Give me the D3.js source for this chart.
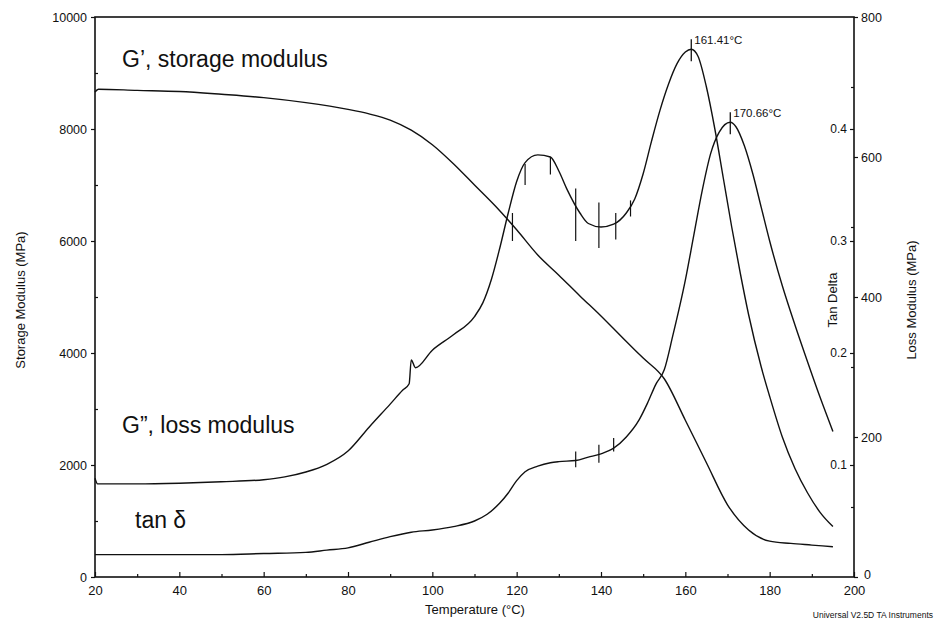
<!DOCTYPE html>
<html>
<head>
<meta charset="utf-8">
<script src="https://cdn.jsdelivr.net/npm/d3@7"></script>
<style>
  body { margin: 0; background: #fff; }
  svg { display: block; }
  text { font-family: "Liberation Sans", Arial, sans-serif; fill: #111; }
</style>
</head>
<body>
<div id="chart"></div>
<script>
// temperature (°C) and values
var storageT   = [20, 20.8, 30, 40, 50, 60, 70, 80, 85, 90, 95, 100, 105, 110, 115, 120, 125, 130, 135, 140, 145, 150, 155, 160, 165, 170, 175, 180, 185, 190, 195];
var storageVal = [8660, 8710, 8690, 8670, 8620, 8560, 8470, 8350, 8270, 8160, 7980, 7720, 7380, 7000, 6620, 6200, 5750, 5390, 5020, 4660, 4280, 3910, 3540, 2800, 2040, 1290, 840, 640, 600, 570, 540];

var lossT   = [20, 20.6, 25, 30, 40, 50, 60, 65, 70, 75, 80, 85, 90, 93, 94.5, 95, 96, 100, 105, 110, 112, 114, 116, 118, 120, 122, 125, 128, 130, 132, 135, 137, 140, 143, 146, 148, 150, 152, 154, 156, 158, 160, 161.41, 163, 165, 167, 169, 171, 173, 175, 178, 180, 183, 186, 189, 192, 195];
var lossVal = [141, 133, 133, 133, 134, 136, 139, 143, 150, 161, 180, 214, 247, 267, 276, 310, 299, 324, 346, 372, 392, 425, 470, 520, 565, 592, 603, 600, 580, 553, 520, 505, 500, 504, 520, 540, 576, 623, 667, 704, 733, 750, 754, 744, 700, 640, 570, 500, 435, 375, 300, 258, 200, 155, 120, 92, 72];

var tanT   = [20, 30, 40, 50, 60, 70, 75, 80, 85, 90, 95, 100, 105, 110, 113, 116, 118, 120, 122, 125, 128, 130, 134, 137, 140, 143, 146, 149, 151, 153, 155, 157, 160, 162, 164, 166, 168, 170.66, 172, 174, 176, 178, 180, 183, 186, 189, 192, 195];
var tanVal = [0.020, 0.020, 0.020, 0.020, 0.021, 0.022, 0.024, 0.026, 0.031, 0.036, 0.040, 0.042, 0.045, 0.050, 0.056, 0.066, 0.075, 0.086, 0.094, 0.099, 0.102, 0.103, 0.104, 0.107, 0.110, 0.115, 0.125, 0.140, 0.155, 0.172, 0.185, 0.215, 0.265, 0.305, 0.345, 0.378, 0.397, 0.406, 0.402, 0.385, 0.360, 0.330, 0.300, 0.260, 0.225, 0.192, 0.160, 0.130];

// little vertical glitches on the curves: [T, low, high]
var lossSpikes = [[119, 480, 520], [122, 560, 590], [128, 575, 600], [134, 480, 555], [139.5, 470, 535], [143.5, 482, 520], [147, 515, 538]];
var tanSpikes  = [[134, 0.098, 0.112], [139.5, 0.102, 0.118], [143, 0.112, 0.124]];

// peak markers
var peakT     = [161.41, 170.66];
var peakLabel = ["161.41°C", "170.66°C"];

var xTicks       = [20, 40, 60, 80, 100, 120, 140, 160, 180, 200];
var storageTicks = [0, 2000, 4000, 6000, 8000, 10000];
var lossTicks    = [0, 200, 400, 600, 800];
var tanTicks     = [0.1, 0.2, 0.3, 0.4];

var width = 935, height = 627;
var plotL = 95, plotR = 854, plotT = 17, plotB = 577;

var svg = d3.select("#chart").append("svg")
    .attr("width", width)
    .attr("height", height);

var x = d3.scaleLinear().domain([20, 200]).range([plotL, plotR]);
var yS = d3.scaleLinear().domain([0, 10000]).range([plotB, plotT]);
var yL = d3.scaleLinear().domain([0, 800]).range([plotB, plotT]);
var yT = d3.scaleLinear().domain([0, 0.5]).range([plotB, plotT]);

// frame
svg.append("rect")
    .attr("x", plotL).attr("y", plotT)
    .attr("width", plotR - plotL).attr("height", plotB - plotT)
    .attr("fill", "none").attr("stroke", "#111").attr("stroke-width", 1.6);

// bottom axis, ticks pointing in
var xAxis = svg.append("g")
    .attr("transform", "translate(0," + plotB + ")")
    .call(d3.axisBottom(x).tickValues(xTicks).tickSizeInner(-5).tickSizeOuter(0).tickPadding(9));
xAxis.selectAll("text").style("font-size", "13px");
svg.append("g")
    .attr("transform", "translate(0," + plotB + ")")
    .call(d3.axisBottom(x).tickValues(d3.range(30, 200, 20)).tickSize(-3).tickFormat(""));

// left axis
var yAxisL = svg.append("g")
    .attr("transform", "translate(" + plotL + ",0)")
    .call(d3.axisLeft(yS).tickValues(storageTicks).tickFormat(d3.format("d")).tickSizeInner(4).tickSizeOuter(0).tickPadding(4));
yAxisL.selectAll("text").style("font-size", "12.5px");
svg.append("g")
    .attr("transform", "translate(" + plotL + ",0)")
    .call(d3.axisLeft(yS).tickValues(d3.range(1000, 10000, 2000)).tickSize(-3).tickFormat(""));

// right axis: loss modulus outside
var yAxisR = svg.append("g")
    .attr("transform", "translate(" + plotR + ",0)")
    .call(d3.axisRight(yL).tickValues(lossTicks).tickFormat(d3.format("d")).tickSizeInner(4).tickSizeOuter(0).tickPadding(3));
yAxisR.selectAll("text").style("font-size", "12.5px");
// the "0" sits just above the 200 temperature label
yAxisR.selectAll(".tick").filter(function(d) { return d === 0; }).select("text")
    .attr("dy", "0.1em").attr("x", 10);
// right axis: tan delta inside
var yAxisT = svg.append("g")
    .attr("transform", "translate(" + plotR + ",0)")
    .call(d3.axisLeft(yT).tickValues(tanTicks).tickFormat(d3.format(".1f")).tickSizeInner(4).tickSizeOuter(0).tickPadding(3));
yAxisT.selectAll("text").style("font-size", "12px");
svg.append("g")
    .attr("transform", "translate(" + plotR + ",0)")
    .call(d3.axisRight(yL).tickValues(d3.range(100, 800, 200)).tickSize(-3).tickFormat(""));

svg.selectAll(".domain").remove();
svg.selectAll(".tick line").attr("stroke", "#111").attr("stroke-width", 1.2);

// curves
function drawCurve(ts, vs, yScale) {
    var pts = ts.map(function(t, i) { return [t, vs[i]]; });
    svg.append("path")
        .datum(pts)
        .attr("fill", "none")
        .attr("stroke", "#111")
        .attr("stroke-width", 1.4)
        .attr("d", d3.line()
            .curve(d3.curveMonotoneX)
            .x(function(d) { return x(d[0]); })
            .y(function(d) { return yScale(d[1]); }));
}
drawCurve(storageT, storageVal, yS);
drawCurve(lossT, lossVal, yL);
drawCurve(tanT, tanVal, yT);

function drawSpikes(list, yScale) {
    svg.selectAll(null)
        .data(list)
        .enter().append("line")
        .attr("x1", function(d) { return x(d[0]); })
        .attr("x2", function(d) { return x(d[0]); })
        .attr("y1", function(d) { return yScale(d[1]); })
        .attr("y2", function(d) { return yScale(d[2]); })
        .attr("stroke", "#111")
        .attr("stroke-width", 1.2);
}
drawSpikes(lossSpikes, yL);
drawSpikes(tanSpikes, yT);

// peak marks + labels
var peakVals = [yL(754), yT(0.406)];
peakT.forEach(function(t, i) {
    svg.append("line")
        .attr("x1", x(t)).attr("x2", x(t))
        .attr("y1", peakVals[i] - 10).attr("y2", peakVals[i] + 12)
        .attr("stroke", "#111").attr("stroke-width", 1.3);
    svg.append("text")
        .attr("x", x(t) + 3)
        .attr("y", peakVals[i] - 5)
        .style("font-size", "11.5px")
        .text(peakLabel[i]);
});

// curve names
svg.append("text").attr("x", 122).attr("y", 67).style("font-size", "23px").text("G\u2019, storage modulus");
svg.append("text").attr("x", 122).attr("y", 433).style("font-size", "23px").text("G\u201d, loss modulus");
svg.append("text").attr("x", 135).attr("y", 528).style("font-size", "23px").text("tan \u03b4");

// axis titles
svg.append("text")
    .attr("transform", "translate(25,300) rotate(-90)")
    .attr("text-anchor", "middle")
    .style("font-size", "13px")
    .text("Storage Modulus (MPa)");
svg.append("text")
    .attr("transform", "translate(916,300) rotate(-90)")
    .attr("text-anchor", "middle")
    .style("font-size", "13px")
    .text("Loss Modulus (MPa)");
svg.append("text")
    .attr("transform", "translate(837,300) rotate(-90)")
    .attr("text-anchor", "middle")
    .style("font-size", "13px")
    .text("Tan Delta");
svg.append("text")
    .attr("x", 475).attr("y", 614)
    .attr("text-anchor", "middle")
    .style("font-size", "13px")
    .text("Temperature (°C)");
svg.append("text")
    .attr("x", 933).attr("y", 618)
    .attr("text-anchor", "end")
    .style("font-size", "8.5px")
    .text("Universal V2.5D TA Instruments");
</script>
</body>
</html>
